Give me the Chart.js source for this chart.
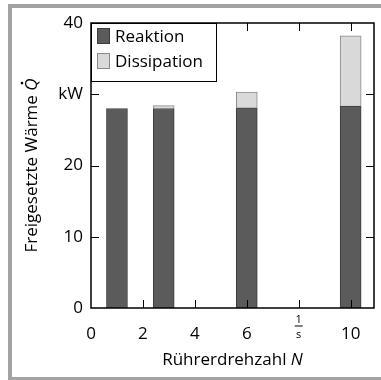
<!DOCTYPE html>
<html>
<head>
<meta charset="utf-8">
<script src="https://cdn.jsdelivr.net/npm/chart.js@4"></script>
<style>
  html, body { margin: 0; padding: 0; background: #fff; overflow: hidden; }
  #wrap { width: 381px; height: 380px; position: relative; overflow: hidden; }
  canvas { display: block; }
</style>
</head>
<body>
<div id="wrap"><canvas id="c" width="381" height="380"></canvas></div>
<script>
// Stirrer speed N (1/s) and released heat (kW)
const speeds = [1, 2.8, 6, 10];
const reaktion = [28.0, 28.0, 28.1, 28.35];
const dissipation = [null, 0.4, 2.2, 9.85];
const seriesNames = ['Reaktion', 'Dissipation'];

const xTicks = [0, 2, 4, 6, 8, 10];
const xTickLabels = ['0', '2', '4', '6', '1/s', '10'];
const yTicks = [0, 10, 20, 30, 40];
const yTickLabels = ['0', '10', '20', 'kW', '40'];

const FONT = '"Open Sans", sans-serif';
const FS = 17;

const toPoints = (vals) => speeds.map((x, i) => ({ x: x, y: vals[i] }));

// Frame, plot box, inward ticks, fraction label, titles and legend
const decor = {
  id: 'decor',
  beforeDraw(chart) {
    const ctx = chart.ctx;
    ctx.save();
    ctx.fillStyle = '#fff';
    ctx.fillRect(0, 0, chart.width, chart.height);
    ctx.fillStyle = '#a3a3a3';
    ctx.fillRect(8, 4, chart.width - 8, 4);    // top
    ctx.fillRect(8, 4, 4, chart.height - 4);   // left
    ctx.fillRect(8, 377, chart.width - 8, 3);  // bottom
    ctx.restore();
  },
  afterDatasetsDraw(chart) {
    const ctx = chart.ctx;
    const a = chart.chartArea;
    const xs = chart.scales.x, ys = chart.scales.y;
    ctx.save();
    ctx.strokeStyle = '#000';
    ctx.lineWidth = 1;
    const tl = 8;
    ctx.beginPath();
    xTicks.forEach(v => {
      if (v <= xs.min || v >= xs.max) return;
      const px = Math.round(xs.getPixelForValue(v)) + 0.5;
      ctx.moveTo(px, a.bottom); ctx.lineTo(px, a.bottom - tl);
      ctx.moveTo(px, a.top); ctx.lineTo(px, a.top + tl);
    });
    yTicks.forEach(v => {
      if (v <= ys.min || v >= ys.max) return;
      const py = Math.round(ys.getPixelForValue(v)) + 0.5;
      ctx.moveTo(a.left, py); ctx.lineTo(a.left + tl, py);
      ctx.moveTo(a.right, py); ctx.lineTo(a.right - tl, py);
    });
    ctx.stroke();
    ctx.lineWidth = 1.5;
    ctx.strokeRect(a.left, a.top, a.right - a.left, a.bottom - a.top);

    // unit fraction 1/s under the tick at 8
    const fx = xs.getPixelForValue(8);
    ctx.fillStyle = '#000';
    ctx.textAlign = 'center';
    ctx.textBaseline = 'alphabetic';
    ctx.font = '11px ' + FONT;
    ctx.fillText('1', fx, a.bottom + 15);
    ctx.fillText('s', fx, a.bottom + 30);
    ctx.lineWidth = 1;
    ctx.beginPath();
    ctx.moveTo(fx - 4, a.bottom + 18); ctx.lineTo(fx + 4, a.bottom + 18);
    ctx.stroke();

    // x title with italic N
    ctx.font = FS + 'px ' + FONT;
    const t1 = 'Rührerdrehzahl ';
    const w1 = ctx.measureText(t1).width;
    ctx.font = 'italic ' + FS + 'px ' + FONT;
    const w2 = ctx.measureText('N').width;
    const cx = (a.left + a.right) / 2;
    let x0 = cx - (w1 + w2) / 2;
    ctx.textAlign = 'left';
    ctx.textBaseline = 'middle';
    ctx.font = FS + 'px ' + FONT;
    ctx.fillText(t1, x0, 360);
    ctx.font = 'italic ' + FS + 'px ' + FONT;
    ctx.fillText('N', x0 + w1, 360);

    // y title with italic Q and a dot above
    ctx.save();
    ctx.translate(32, (a.top + a.bottom) / 2);
    ctx.rotate(-Math.PI / 2);
    ctx.font = FS + 'px ' + FONT;
    const s1 = 'Freigesetzte Wärme ';
    const sw1 = ctx.measureText(s1).width;
    ctx.font = 'italic ' + FS + 'px ' + FONT;
    const sw2 = ctx.measureText('Q').width;
    let y0 = -(sw1 + sw2) / 2;
    ctx.font = FS + 'px ' + FONT;
    ctx.fillText(s1, y0, 0);
    ctx.font = 'italic ' + FS + 'px ' + FONT;
    ctx.fillText('Q', y0 + sw1, 0);
    ctx.beginPath();
    ctx.arc(y0 + sw1 + sw2 / 2 + 1.5, -10, 1.3, 0, Math.PI * 2);
    ctx.fill();
    ctx.restore();

    // legend box in the upper left corner
    const lx = a.left, ly = a.top, lw = 125, lh = 58;
    ctx.fillStyle = '#fff';
    ctx.fillRect(lx, ly, lw, lh);
    ctx.strokeStyle = '#000';
    ctx.lineWidth = 1;
    ctx.strokeRect(lx + 0.5, ly + 0.5, lw, lh);
    chart.data.datasets.forEach((ds, i) => {
      const sy = ly + 5 + i * 25;
      ctx.fillStyle = ds.backgroundColor;
      ctx.fillRect(lx + 6, sy, 13, 16);
      ctx.strokeStyle = ds.borderColor;
      ctx.strokeRect(lx + 6.5, sy + 0.5, 12, 15);
      ctx.fillStyle = '#000';
      ctx.font = FS + 'px ' + FONT;
      ctx.textBaseline = 'middle';
      ctx.fillText(ds.label, lx + 24, sy + 9);
    });
    ctx.restore();
  }
};

new Chart(document.getElementById('c'), {
  type: 'bar',
  data: {
    datasets: [
      { label: seriesNames[0], data: toPoints(reaktion), backgroundColor: '#5b5b5b', borderColor: '#3d3d3d', borderWidth: 1, barThickness: 21 },
      { label: seriesNames[1], data: toPoints(dissipation), backgroundColor: '#d9d9d9', borderColor: '#8a8a8a', borderWidth: 1, barThickness: 21 }
    ]
  },
  options: {
    responsive: false,
    animation: false,
    layout: { padding: { left: 0, right: 7, top: 23, bottom: 0 } },
    plugins: { legend: { display: false }, tooltip: { enabled: false } },
    scales: {
      x: {
        type: 'linear', stacked: true, min: 0, max: 10.9, offset: false,
        grid: { display: false, drawTicks: false, offset: false },
        border: { display: false },
        afterBuildTicks: s => { s.ticks = xTicks.map(v => ({ value: v })); },
        afterFit: s => { s.height = 72; },
        ticks: {
          padding: 16, color: '#000', font: { family: FONT, size: FS },
          maxRotation: 0, autoSkip: false,
          callback: (v) => { const i = xTicks.indexOf(v); return (i < 0 || v === 8) ? '' : xTickLabels[i]; }
        }
      },
      y: {
        stacked: true, min: 0, max: 40,
        grid: { display: false, drawTicks: false },
        border: { display: false },
        afterBuildTicks: s => { s.ticks = yTicks.map(v => ({ value: v })); },
        afterFit: s => { s.width = 91; },
        ticks: {
          padding: 8, color: '#000', font: { family: FONT, size: FS },
          callback: (v) => { const i = yTicks.indexOf(v); return i < 0 ? '' : yTickLabels[i]; }
        }
      }
    }
  },
  plugins: [decor]
});
</script>
</body>
</html>
